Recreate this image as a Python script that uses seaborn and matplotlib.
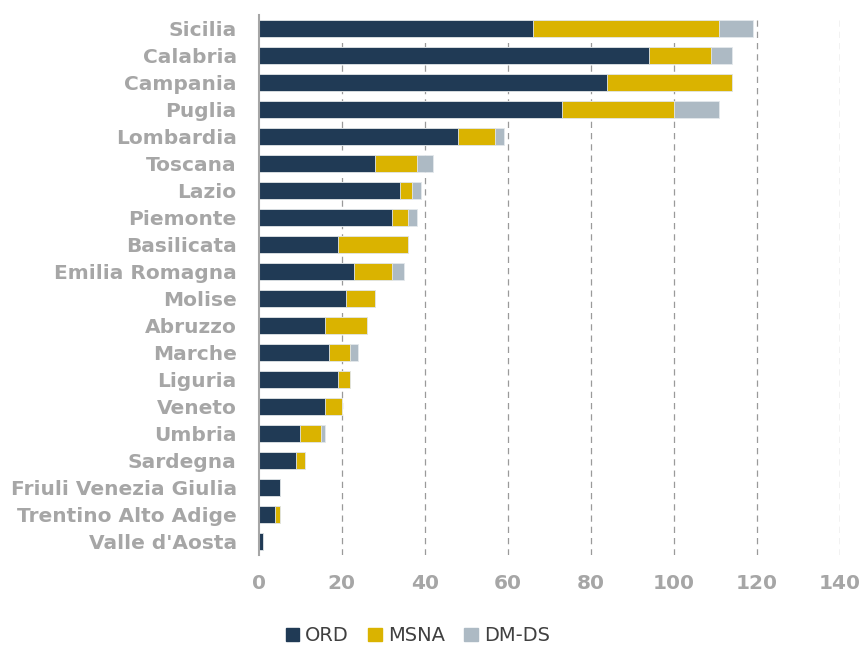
import numpy as np
import pandas as pd
import matplotlib
matplotlib.use("Agg")
import matplotlib.pyplot as plt
import seaborn as sns
from matplotlib.patches import Patch

# dati
regioni = ["Sicilia", "Calabria", "Campania", "Puglia", "Lombardia", "Toscana",
           "Lazio", "Piemonte", "Basilicata", "Emilia Romagna", "Molise",
           "Abruzzo", "Marche", "Liguria", "Veneto", "Umbria", "Sardegna",
           "Friuli Venezia Giulia", "Trentino Alto Adige", "Valle d'Aosta"]
ord_vals = [66, 94, 84, 73, 48, 28, 34, 32, 19, 23, 21, 16, 17, 19, 16, 10, 9, 5, 4, 1]
msna_vals = [45, 15, 30, 27, 9, 10, 3, 4, 17, 9, 7, 10, 5, 3, 4, 5, 2, 0, 1, 0]
dmds_vals = [8, 5, 0, 11, 2, 4, 2, 2, 0, 3, 0, 0, 2, 0, 0, 1, 0, 0, 0, 0]
x_ticks = [0, 20, 40, 60, 80, 100, 120, 140]

c_ord, c_msna, c_dm = "#203a55", "#dab300", "#adbac4"
grey = "#a6a6a6"

df = pd.DataFrame({"regione": regioni, "ORD": ord_vals,
                   "MSNA": msna_vals, "DM-DS": dmds_vals})
df["cum_msna"] = df["ORD"] + df["MSNA"]
df["cum_tot"] = df["cum_msna"] + df["DM-DS"]

sns.set_theme(style="white")
plt.rcParams["font.family"] = ["DejaVu Sans"]

fig = plt.figure(figsize=(8.63, 6.46), dpi=100)
ax = fig.add_axes([0.300, 0.141, 0.673, 0.836])

# barre sovrapposte: totale, poi ORD+MSNA, poi ORD
for col, colore in [("cum_tot", c_dm), ("cum_msna", c_msna), ("ORD", c_ord)]:
    sns.barplot(data=df, y="regione", x=col, color=colore, orient="h",
                width=0.65, saturation=1, ax=ax, order=regioni,
                edgecolor="#e4e8ec", linewidth=0.6)

ax.set_xlim(0, 140)
ax.set_xticks(x_ticks)
ax.set_xlabel("")
ax.set_ylabel("")
ax.set_ylim(len(regioni) - 0.5, -0.5)

for v in x_ticks[1:]:
    ax.axvline(v, color="#9a9a9a", linestyle=(0, (5, 4)), linewidth=0.9, zorder=0)

for s in ["top", "right", "bottom"]:
    ax.spines[s].set_visible(False)
ax.spines["left"].set_color("#a6a6a6")
ax.spines["left"].set_linewidth(1.5)

ax.tick_params(axis="y", length=0, pad=16, labelsize=14.5, labelcolor=grey)
ax.tick_params(axis="x", length=0, pad=14, labelsize=14.5, labelcolor=grey)
for t in ax.get_yticklabels() + ax.get_xticklabels():
    t.set_fontweight("bold")

handles = [Patch(color=c_ord, label="ORD"), Patch(color=c_msna, label="MSNA"),
           Patch(color=c_dm, label="DM-DS")]
leg = fig.legend(handles=handles, loc="center", bbox_to_anchor=(0.484, 0.016),
                 ncol=3, frameon=False, fontsize=14, handlelength=0.7,
                 handleheight=0.7, handletextpad=0.3, columnspacing=1.0)
for t in leg.get_texts():
    t.set_color("#404040")

fig.savefig("out.png", dpi=100)
